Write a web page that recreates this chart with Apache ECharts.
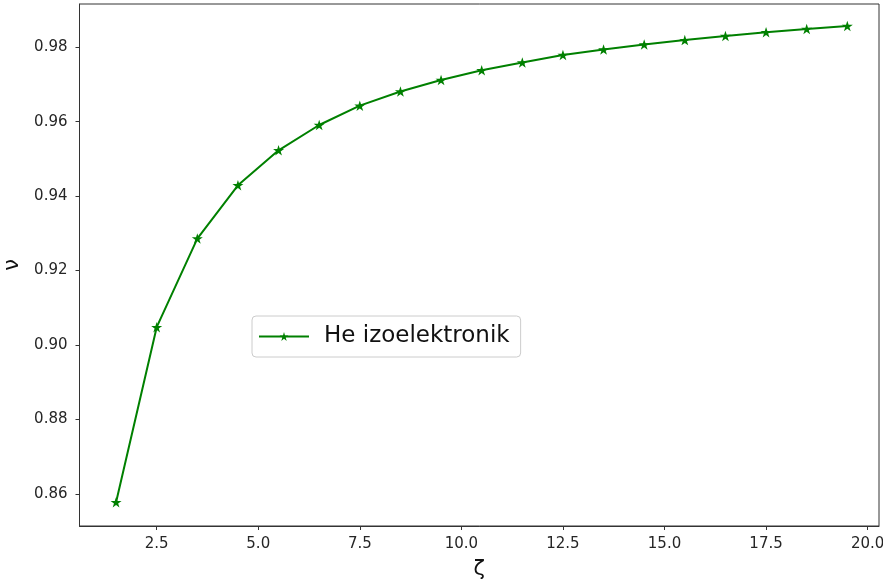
<!DOCTYPE html>
<html>
<head>
<meta charset="utf-8">
<script src="https://cdn.jsdelivr.net/npm/echarts@6/dist/echarts.min.js"></script>
<style>
html,body{margin:0;padding:0;background:#fff;}
#chart{width:883px;height:587px;}
</style>
</head>
<body>
<div id="chart"></div>
<script>
const zeta = [1.5, 2.5, 3.5, 4.5, 5.5, 6.5, 7.5, 8.5, 9.5, 10.5, 11.5, 12.5, 13.5, 14.5, 15.5, 16.5, 17.5, 18.5, 19.5];
const nu = [0.8578, 0.9048, 0.9286, 0.9429, 0.9523, 0.9591, 0.9643, 0.9681, 0.9712, 0.9738, 0.9759, 0.9779, 0.9794, 0.9807, 0.9819, 0.9830, 0.9840, 0.9849, 0.9857];
const xTicks = [2.5, 5.0, 7.5, 10.0, 12.5, 15.0, 17.5, 20.0];
const yTicks = [0.86, 0.88, 0.90, 0.92, 0.94, 0.96, 0.98];
const seriesName = 'He izoelektronik';

const star = 'path://M50,0 L61.23,34.55 L97.55,34.55 L68.17,55.9 L79.39,90.45 L50,69.1 L20.61,90.45 L31.83,55.9 L2.45,34.55 L38.77,34.55 Z';
const font = 'DejaVu Sans';
const chart = echarts.init(document.getElementById('chart'), null, {renderer: 'canvas'});
chart.setOption({
  animation: false,
  backgroundColor: '#fff',
  grid: {left: 79.5, right: 4, top: 4, bottom: 61, show: true, borderColor: '#333', borderWidth: 1,
    containLabel: false, outerBoundsMode: 'none'},
  xAxis: {
    type: 'value', min: 0.6, max: 20.28,
    name: 'ζ', nameLocation: 'middle', nameGap: 33,
    nameTextStyle: {fontFamily: font, fontSize: 21, color: '#111'},
    axisLine: {show: true, lineStyle: {color: '#333', width: 1}},
    axisTick: {show: true, length: 4, lineStyle: {color: '#333'}, customValues: xTicks},
    axisLabel: {fontFamily: font, fontSize: 15, color: '#262626', margin: 11, customValues: xTicks,
      formatter: v => v.toFixed(1)},
    splitLine: {show: false}
  },
  yAxis: {
    type: 'value', min: 0.8514, max: 0.9916,
    name: 'ν', nameLocation: 'middle', nameGap: 55, nameRotate: 90,
    nameTextStyle: {fontFamily: font, fontSize: 21, color: '#111'},
    axisLine: {show: true, lineStyle: {color: '#333', width: 1}},
    axisTick: {show: true, length: 4, lineStyle: {color: '#333'}, customValues: yTicks},
    axisLabel: {fontFamily: font, fontSize: 15, color: '#262626', margin: 12, customValues: yTicks,
      formatter: v => v.toFixed(2)},
    splitLine: {show: false}
  },
  legend: {
    show: true, left: 252, top: 316, orient: 'horizontal',
    padding: [9, 11, 9, 6],
    itemWidth: 50, itemHeight: 11,
    borderColor: '#cccccc', borderWidth: 1, borderRadius: 4,
    backgroundColor: 'rgba(255,255,255,0.8)',
    textStyle: {fontFamily: font, fontSize: 23, color: '#111', padding: [0, 0, 0, 10]},
    data: [seriesName]
  },
  series: [{
    name: seriesName, type: 'line',
    data: zeta.map((z, i) => [z, nu[i]]),
    symbol: star, symbolSize: [11, 10.5],
    itemStyle: {color: '#008000'},
    lineStyle: {color: '#008000', width: 2},
    showSymbol: true
  }]
});
</script>
</body>
</html>
